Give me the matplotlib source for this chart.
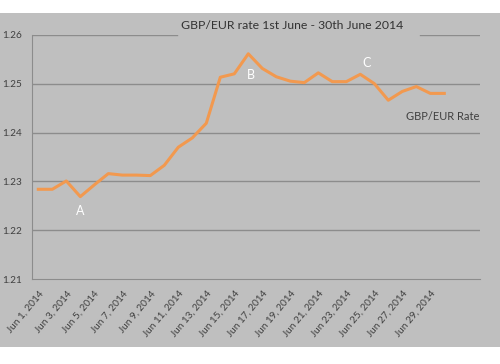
"""
GBP/EUR 汇率折线图 (2014年6月)
"""
import matplotlib
matplotlib.use('Agg')
import matplotlib.pyplot as plt
from matplotlib.patches import Rectangle

# 数据
days = list(range(1, 31))
rates = [1.2284, 1.2284, 1.2301, 1.2269, 1.2293, 1.2316, 1.2313, 1.2313, 1.2312, 1.2333,
         1.2370, 1.2389, 1.2419, 1.2513, 1.2520, 1.2561, 1.2531, 1.2514, 1.2505, 1.2502,
         1.2522, 1.2504, 1.2504, 1.2519, 1.2500, 1.2466, 1.2484, 1.2494, 1.2480, 1.2480]
tick_days = list(range(1, 31, 2))
tick_labels = [f'Jun {d}, 2014' for d in tick_days]
y_ticks = [1.21, 1.22, 1.23, 1.24, 1.25, 1.26]
notes = ['A', 'B', 'C']
note_x = [3.98, 16.16, 24.48]
note_y = [1.2239, 1.2518, 1.2542]

BG = '#BFBFBF'
GRID = '#8C8C8C'
TXT = '#404040'
LINE = '#F2994F'

plt.rcParams['font.family'] = ['Lato', 'DejaVu Sans']

fig = plt.figure(figsize=(5, 3.64), dpi=100)
fig.patches.append(Rectangle((0, 0.0467), 1, 0.9176, transform=fig.transFigure,
                             facecolor=BG, edgecolor='none', zorder=-10))

ax = fig.add_axes([0.064, 0.2327, 0.896, 0.672])
ax.patch.set_visible(False)
ax.set_xlim(0.55, 32.55)
ax.set_ylim(1.21, 1.26)

# 网格线 (顶部一条被标题截断)
for v in y_ticks[1:-1]:
    ax.axhline(v, color=GRID, lw=1.0, zorder=1)
ax.axhline(1.26, xmin=0, xmax=0.3237, color=GRID, lw=1.0, zorder=1)
ax.axhline(1.26, xmin=0.866, xmax=1, color=GRID, lw=1.0, zorder=1)
for s in ['top', 'right']:
    ax.spines[s].set_visible(False)
ax.spines['left'].set_color(GRID)
ax.spines['bottom'].set_color(GRID)

ax.plot(days, rates, color=LINE, lw=2.2, zorder=3)

ax.set_yticks(y_ticks)
ax.set_yticklabels([f'{v:.2f}' for v in y_ticks])
ax.set_xticks(tick_days)
ax.set_xticklabels(tick_labels, rotation=50, ha='right', va='top', rotation_mode='anchor')
ax.tick_params(axis='both', length=0, colors=TXT, labelsize=7.2)
ax.tick_params(axis='y', pad=7.4)
ax.tick_params(axis='x', pad=7)

for t, x, y in zip(notes, note_x, note_y):
    ax.text(x, y, t, color='white', fontsize=9, ha='center', va='center')
ax.text(0.998, 1.2433, 'GBP/EUR Rate', transform=ax.get_yaxis_transform(),
        color=TXT, fontsize=8, ha='right', va='center')

fig.text(0.584, 0.9286, 'GBP/EUR rate 1st June - 30th June 2014', color='#333333',
         fontsize=8.8, ha='center', va='center')

fig.savefig('out.png', dpi=100)
